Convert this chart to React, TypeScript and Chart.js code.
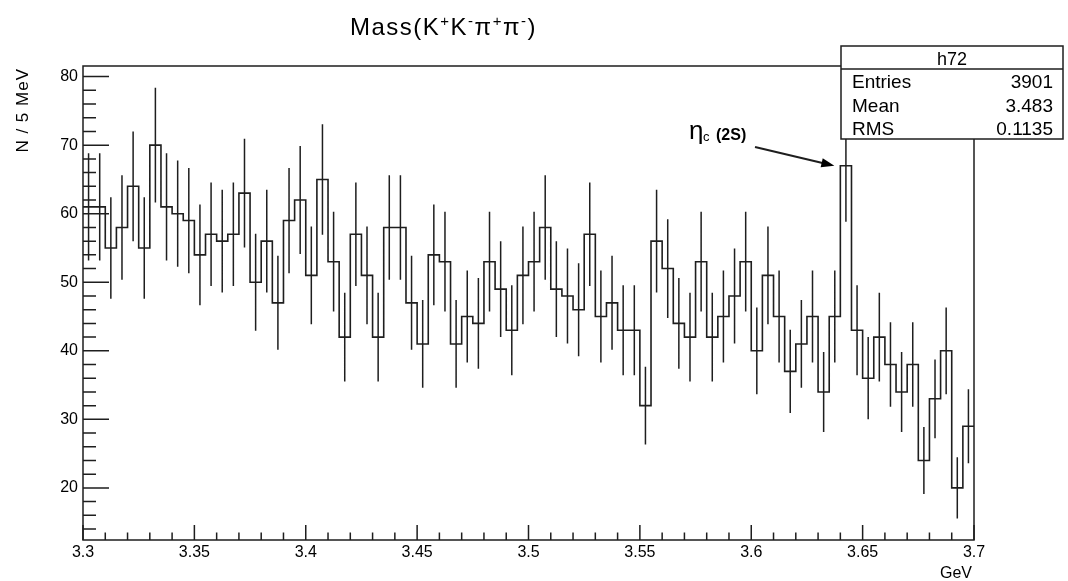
import React, { useEffect, useRef } from "react";
import { Chart, registerables } from "chart.js";

Chart.register(...registerables);

// ---------- data ----------
const X_MIN = 3.3;
const X_MAX = 3.7;
const BIN_WIDTH = 0.005;
const Y_MIN = 12.4;
const Y_MAX = 81.55;

const counts: number[] = [
  61, 61, 55, 58, 64, 55, 70, 61, 60, 59, 54, 57, 56, 57, 63, 50,
  56, 47, 59, 62, 51, 65, 53, 42, 57, 51, 42, 58, 58, 47, 41, 54,
  53, 41, 45, 44, 53, 49, 43, 51, 53, 58, 49, 48, 46, 57, 45, 47,
  43, 43, 32, 56, 52, 44, 42, 53, 42, 45, 48, 53, 40, 51, 45, 37,
  41, 45, 34, 45, 67, 43, 36, 42, 38, 34, 38, 24, 33, 40, 20, 29,
];

const xTickValues = [3.3, 3.35, 3.4, 3.45, 3.5, 3.55, 3.6, 3.65, 3.7];
const yTickValues = [20, 30, 40, 50, 60, 70, 80];
const xMinorPerMajor = 5;
const yMinorStep = 2;

const titleParts = [
  { text: "Mass(K", sup: false },
  { text: "+", sup: true },
  { text: "K", sup: false },
  { text: "-", sup: true },
  { text: "π", sup: false },
  { text: "+", sup: true },
  { text: "π", sup: false },
  { text: "-", sup: true },
  { text: ")", sup: false },
];
const yTitle = "N / 5 MeV";
const xTitle = "GeV";
const statsTitle = "h72";
const statsLabels = ["Entries", "Mean", "RMS"];
const statsValues = ["3901", "3.483", "0.1135"];
const annMain = "η";
const annSub = "c";
const annTail = "(2S)";
const peakBinLow = 3.64;
const peakValue = 67;

// ---------- style ----------
const INK = "#1e1e1e";
const FONT = '"Liberation Sans", Arial, Helvetica, sans-serif';

const decorPlugin = {
  id: "rootDecor",
  afterDraw(chart: any) {
    const { ctx, chartArea: a, scales } = chart;
    const xs = scales.x;
    const ys = scales.y;
    ctx.save();
    ctx.strokeStyle = INK;
    ctx.fillStyle = "#000";
    ctx.lineWidth = 1.5;

    // frame
    ctx.strokeRect(a.left, a.top, a.right - a.left, a.bottom - a.top);

    // y ticks (inside)
    ctx.beginPath();
    yTickValues.forEach((v) => {
      const y = ys.getPixelForValue(v);
      ctx.moveTo(a.left, y);
      ctx.lineTo(a.left + 26, y);
    });
    for (let v = Math.ceil(Y_MIN / yMinorStep) * yMinorStep; v <= Y_MAX; v += yMinorStep) {
      if (v % 10 === 0) continue;
      const y = ys.getPixelForValue(v);
      ctx.moveTo(a.left, y);
      ctx.lineTo(a.left + 13, y);
    }
    // x ticks (inside)
    for (let i = 0; i < xTickValues.length; i++) {
      const v0 = xTickValues[i];
      const x0 = xs.getPixelForValue(v0);
      ctx.moveTo(x0, a.bottom);
      ctx.lineTo(x0, a.bottom - 15);
      if (i < xTickValues.length - 1) {
        const v1 = xTickValues[i + 1];
        for (let k = 1; k < xMinorPerMajor; k++) {
          const x = xs.getPixelForValue(v0 + ((v1 - v0) * k) / xMinorPerMajor);
          ctx.moveTo(x, a.bottom);
          ctx.lineTo(x, a.bottom - 7.5);
        }
      }
    }
    ctx.stroke();

    // stats box
    const bx = 841, by = 46, bw = 222, bh = 93, hh = 23;
    ctx.fillStyle = "#fff";
    ctx.fillRect(bx, by, bw, bh);
    ctx.strokeRect(bx, by, bw, bh);
    ctx.beginPath();
    ctx.moveTo(bx, by + hh);
    ctx.lineTo(bx + bw, by + hh);
    ctx.stroke();
    ctx.fillStyle = "#000";
    ctx.textBaseline = "alphabetic";
    ctx.font = `18px ${FONT}`;
    ctx.textAlign = "center";
    ctx.fillText(statsTitle, bx + bw / 2, by + 19);
    ctx.font = `19px ${FONT}`;
    statsLabels.forEach((lab, i) => {
      const yy = 88 + i * 23.5;
      ctx.textAlign = "left";
      ctx.fillText(lab, bx + 11, yy);
      ctx.textAlign = "right";
      ctx.fillText(statsValues[i], bx + bw - 10, yy);
    });

    // title
    let tx = 350;
    const tBase = 35;
    ctx.textAlign = "left";
    (ctx as any).letterSpacing = "1.5px";
    titleParts.forEach((p) => {
      ctx.font = p.sup ? `15px ${FONT}` : `24px ${FONT}`;
      const yy = p.sup ? tBase - 9 : tBase;
      ctx.fillText(p.text, tx, yy);
      tx += ctx.measureText(p.text).width;
    });

    // axis titles
    (ctx as any).letterSpacing = "1px";
    ctx.font = `17px ${FONT}`;
    ctx.save();
    ctx.translate(28, 68);
    ctx.rotate(-Math.PI / 2);
    ctx.textAlign = "right";
    ctx.fillText(yTitle, 0, 0);
    ctx.restore();
    (ctx as any).letterSpacing = "0px";
    ctx.font = `16px ${FONT}`;
    ctx.textAlign = "right";
    ctx.fillText(xTitle, a.right - 2, 578);

    // annotation
    ctx.textAlign = "left";
    ctx.font = `26px ${FONT}`;
    ctx.fillText(annMain, 689, 139);
    ctx.font = `13px ${FONT}`;
    ctx.fillText(annSub, 703, 141);
    ctx.font = `bold 16px ${FONT}`;
    ctx.fillText(annTail, 716, 140);

    // arrow
    const tipX = xs.getPixelForValue(peakBinLow) - 6;
    const tipY = ys.getPixelForValue(peakValue);
    const sx = 755, sy = 147;
    ctx.lineWidth = 2;
    ctx.beginPath();
    ctx.moveTo(sx, sy);
    const ang = Math.atan2(tipY - sy, tipX - sx);
    ctx.lineTo(tipX - 10 * Math.cos(ang), tipY - 10 * Math.sin(ang));
    ctx.stroke();
    ctx.beginPath();
    ctx.moveTo(tipX, tipY);
    ctx.lineTo(tipX - 13 * Math.cos(ang) + 4.5 * Math.sin(ang), tipY - 13 * Math.sin(ang) - 4.5 * Math.cos(ang));
    ctx.lineTo(tipX - 13 * Math.cos(ang) - 4.5 * Math.sin(ang), tipY - 13 * Math.sin(ang) + 4.5 * Math.cos(ang));
    ctx.closePath();
    ctx.fillStyle = "#000";
    ctx.fill();

    ctx.restore();
  },
};

export default function App() {
  const ref = useRef<HTMLCanvasElement | null>(null);

  useEffect(() => {
    if (!ref.current) return;
    const stepData = counts.map((c, i) => ({ x: X_MIN + i * BIN_WIDTH, y: c }));
    stepData.push({ x: X_MAX, y: counts[counts.length - 1] });

    const errData: { x: number; y: number | null }[] = [];
    counts.forEach((c, i) => {
      const cx = X_MIN + (i + 0.5) * BIN_WIDTH;
      const e = Math.sqrt(c);
      errData.push({ x: cx, y: c - e });
      errData.push({ x: cx, y: c + e });
      errData.push({ x: cx, y: null });
    });

    const chart = new Chart(ref.current, {
      type: "line",
      data: {
        datasets: [
          {
            data: stepData,
            borderColor: INK,
            borderWidth: 1.6,
            pointRadius: 0,
            stepped: "before",
            fill: false,
            tension: 0,
          },
          {
            data: errData as any,
            borderColor: INK,
            borderWidth: 1.5,
            pointRadius: 0,
            spanGaps: false,
            fill: false,
            tension: 0,
          },
        ],
      },
      options: {
        responsive: false,
        devicePixelRatio: 1,
        animation: false,
        events: [],
        layout: { padding: { top: 66, right: 94, left: 0, bottom: 0 } },
        plugins: {
          legend: { display: false },
          tooltip: { enabled: false },
          title: { display: false },
        },
        scales: {
          x: {
            type: "linear",
            min: X_MIN,
            max: X_MAX,
            offset: false,
            grid: { display: false, drawTicks: false },
            border: { display: false },
            afterBuildTicks: (s: any) => {
              s.ticks = xTickValues.map((v) => ({ value: v }));
            },
            afterFit: (s: any) => {
              s.height = 41;
            },
            ticks: {
              autoSkip: false,
              maxRotation: 0,
              padding: 3,
              color: "#000",
              font: { family: FONT, size: 16 },
              callback: (v: any) => String(Number(Number(v).toFixed(3))),
            },
          },
          y: {
            type: "linear",
            min: Y_MIN,
            max: Y_MAX,
            grid: { display: false, drawTicks: false },
            border: { display: false },
            afterBuildTicks: (s: any) => {
              s.ticks = yTickValues.map((v) => ({ value: v }));
            },
            afterFit: (s: any) => {
              s.width = 83;
            },
            ticks: {
              padding: 5,
              color: "#000",
              font: { family: FONT, size: 16 },
              callback: (v: any) => String(v),
            },
          },
        },
      },
      plugins: [decorPlugin],
    });
    return () => chart.destroy();
  }, []);

  return (
    <div style={{ position: "absolute", left: 0, top: 0, width: 1068, height: 581, background: "#fff" }}>
      <canvas ref={ref} width={1068} height={581} style={{ display: "block" }} />
    </div>
  );
}
